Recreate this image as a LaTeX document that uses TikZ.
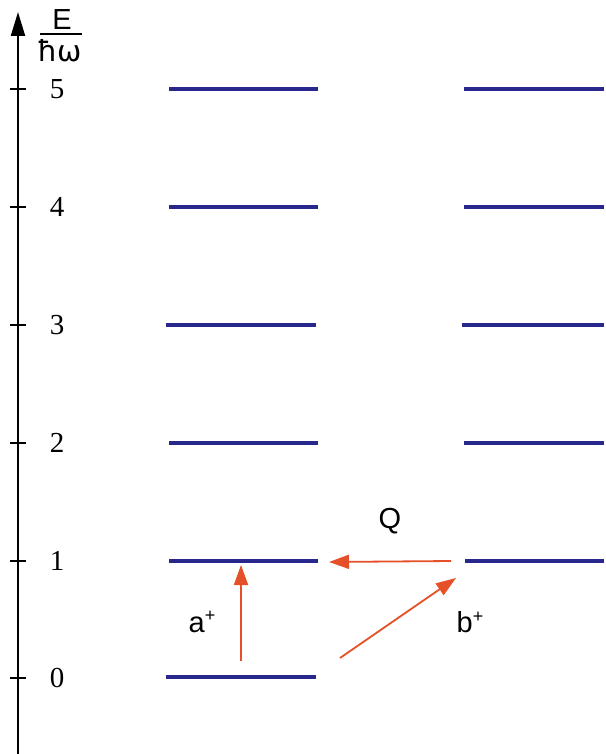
\documentclass[tikz,border=0pt]{standalone}
\usepackage{fontspec}
\setmainfont{Liberation Serif}
\setsansfont{Liberation Sans}
\usetikzlibrary{arrows.meta}
\definecolor{lvl}{RGB}{40,40,140}
\definecolor{trans}{RGB}{230,80,40}
\tikzset{
  level/.style={draw=lvl, line width=3.3pt},
  tr/.style={draw=trans, line width=1.8pt, -{Triangle[length=20pt,width=14pt]}, shorten >=0pt},
  num/.style={font=\fontsize{29}{29}\selectfont, inner sep=0pt},
  lab/.style={font=\sffamily\fontsize{29}{29}\selectfont, inner sep=0pt},
}
\begin{document}
\begin{tikzpicture}[x=1pt,y=-1pt]
\useasboundingbox (0,0) rectangle (605,754);
% axis
\coordinate (ab) at (18,754);
\coordinate (at) at (18,12);
\draw[line width=2pt, -{Triangle[length=24pt,width=14pt]}] (ab) -- (at);
\foreach \y/\n in {89/5,207/4,325/3,443/2,561/1,678/0}{
  \coordinate (tl\n) at (10,\y);
  \coordinate (tr\n) at (26,\y);
  \draw[line width=1.6pt] (tl\n) -- (tr\n);
  \node[num] (n\n) at (57,\y) {\n};
}
% axis label
\node[lab] (E) at (62,20) {E};
\coordinate (fa) at (40,34);
\coordinate (fb) at (82,34);
\draw[line width=1.6pt] (fa) -- (fb);
\node[font=\fontsize{29}{29}\selectfont, inner sep=0pt] (hw) at (60,51) {\fontspec{DejaVu Sans}ħω};
% left levels
\foreach \y/\n/\a/\b in {89/5/169/318,207/4/169/318,325/3/166/316,443/2/169/318,561/1/169/318,677/0/166/316}{
  \coordinate (La\n) at (\a,\y);
  \coordinate (Lb\n) at (\b,\y);
  \draw[level] (La\n) -- (Lb\n);
}
% right levels
\foreach \y/\n/\a in {89/5/464,207/4/464,325/3/462,443/2/464,561/1/465}{
  \coordinate (Ra\n) at (\a,\y);
  \coordinate (Rb\n) at (604,\y);
  \draw[level] (Ra\n) -- (Rb\n);
}
% transitions
\coordinate (a0) at (241,661);
\coordinate (a1) at (241,565);
\draw[tr] (a0) -- (a1);
\coordinate (q0) at (451,561);
\coordinate (q1) at (329,562);
\draw[tr] (q0) -- (q1);
\coordinate (b0) at (340,658);
\coordinate (b1) at (456,578);
\draw[tr] (b0) -- (b1);
\node[lab] (la) at (202,622) {a\raisebox{0.35em}{\fontsize{18}{18}\selectfont +}};
\node[lab] (lq) at (390,521) {Q};
\node[lab] (lb) at (470,622) {b\raisebox{0.35em}{\fontsize{18}{18}\selectfont +}};
\end{tikzpicture}
\end{document}
